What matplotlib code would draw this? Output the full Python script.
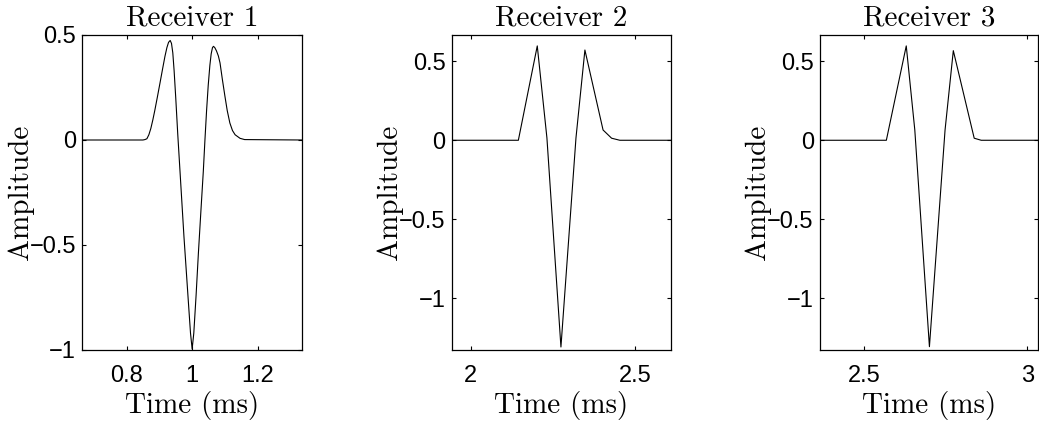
import matplotlib
matplotlib.use("Agg")
import matplotlib.pyplot as plt

# ---- data ----
titles = ["Receiver 1", "Receiver 2", "Receiver 3"]

t1 = [0.665, 0.850, 0.856, 0.862, 0.868, 0.874, 0.880, 0.886, 0.894, 0.902,
      0.910, 0.917, 0.923, 0.928, 0.933, 0.937, 0.941, 0.945, 0.950, 0.956,
      0.963, 0.975, 0.988, 0.995, 1.000, 1.005, 1.012, 1.019, 1.027, 1.034,
      1.039, 1.044, 1.049, 1.054, 1.058, 1.062, 1.065, 1.069, 1.074, 1.080,
      1.085, 1.092, 1.100, 1.107, 1.115, 1.123, 1.131, 1.146, 1.160, 1.335]
a1 = [0.0, 0.0, 0.002, 0.006, 0.025, 0.055, 0.095, 0.140, 0.205, 0.272,
      0.340, 0.398, 0.440, 0.465, 0.474, 0.460, 0.415, 0.330, 0.200, 0.030,
      -0.150, -0.460, -0.760, -0.920, -0.995, -0.920, -0.740, -0.540, -0.330, -0.150,
      0.000, 0.140, 0.260, 0.355, 0.410, 0.440, 0.446, 0.440, 0.425, 0.400,
      0.367, 0.290, 0.208, 0.140, 0.081, 0.045, 0.025, 0.008, 0.002, 0.0]

t2 = [1.942, 2.145, 2.2026, 2.232, 2.2747, 2.3205, 2.3477, 2.403, 2.429, 2.454, 2.609]
a2 = [0.0, 0.0, 0.597, 0.015, -1.308, 0.015, 0.571, 0.065, 0.013, 0.0, 0.0]

t3 = [2.365, 2.5683, 2.6293, 2.6555, 2.7003, 2.7482, 2.7735, 2.8375, 2.859, 3.033]
a3 = [0.0, 0.0, 0.597, 0.065, -1.306, 0.065, 0.567, 0.013, 0.0, 0.0]

xlims = [(0.665, 1.335), (1.942, 2.609), (2.365, 3.033)]
ylims = [(-1.0, 0.5), (-1.327, 0.666), (-1.327, 0.666)]
xticks = [[0.8, 1.0, 1.2], [2.0, 2.5], [2.5, 3.0]]
xticklabels = [["0.8", "1", "1.2"], ["2", "2.5"], ["2.5", "3"]]
yticks = [-1.0, -0.5, 0.0, 0.5]
yticklabels = ["\u22121", "\u22120.5", "0", "0.5"]

series_t = [t1, t2, t3]
series_a = [a1, a2, a3]

# ---- layout ----
W, H = 1039, 425
fig = plt.figure(figsize=(W / 100, H / 100), dpi=100)

axes_px = [(82.3, 302.0), (451.7, 670.7), (820.0, 1038.0)]
top_px, bot_px = 35.0, 350.0

serif = "cmr10"
sans = ["Liberation Sans", "DejaVu Sans"]

for i in range(3):
    l, r = axes_px[i]
    ax = fig.add_axes([l / W, 1 - bot_px / H, (r - l) / W, (bot_px - top_px) / H])
    ax.plot(series_t[i], series_a[i], color="black", lw=0.8)
    ax.set_xlim(*xlims[i])
    ax.set_ylim(*ylims[i])
    ax.set_xticks(xticks[i])
    ax.set_xticklabels(xticklabels[i], fontfamily=sans, fontsize=17)
    ax.set_yticks(yticks)
    ax.set_yticklabels(yticklabels, fontfamily=sans, fontsize=17)
    ax.tick_params(axis="both", direction="in", length=3, width=0.8,
                   top=True, right=True)
    ax.tick_params(axis="x", pad=11)
    ax.tick_params(axis="y", pad=4.5)
    for s in ax.spines.values():
        s.set_linewidth(0.9)
    ax.set_title(titles[i], fontfamily=serif, fontsize=21, pad=6.5)
    ax.set_xlabel("Time (ms)", fontfamily=serif, fontsize=21, va="baseline")
    ax.xaxis.set_label_coords(0.5, -(413 - bot_px) / (bot_px - top_px))
    ax.set_ylabel("Amplitude", fontfamily=serif, fontsize=21, va="center")
    ax.yaxis.set_label_coords(-62.0 / (r - l), 0.5)

fig.savefig("out.png", dpi=100)
